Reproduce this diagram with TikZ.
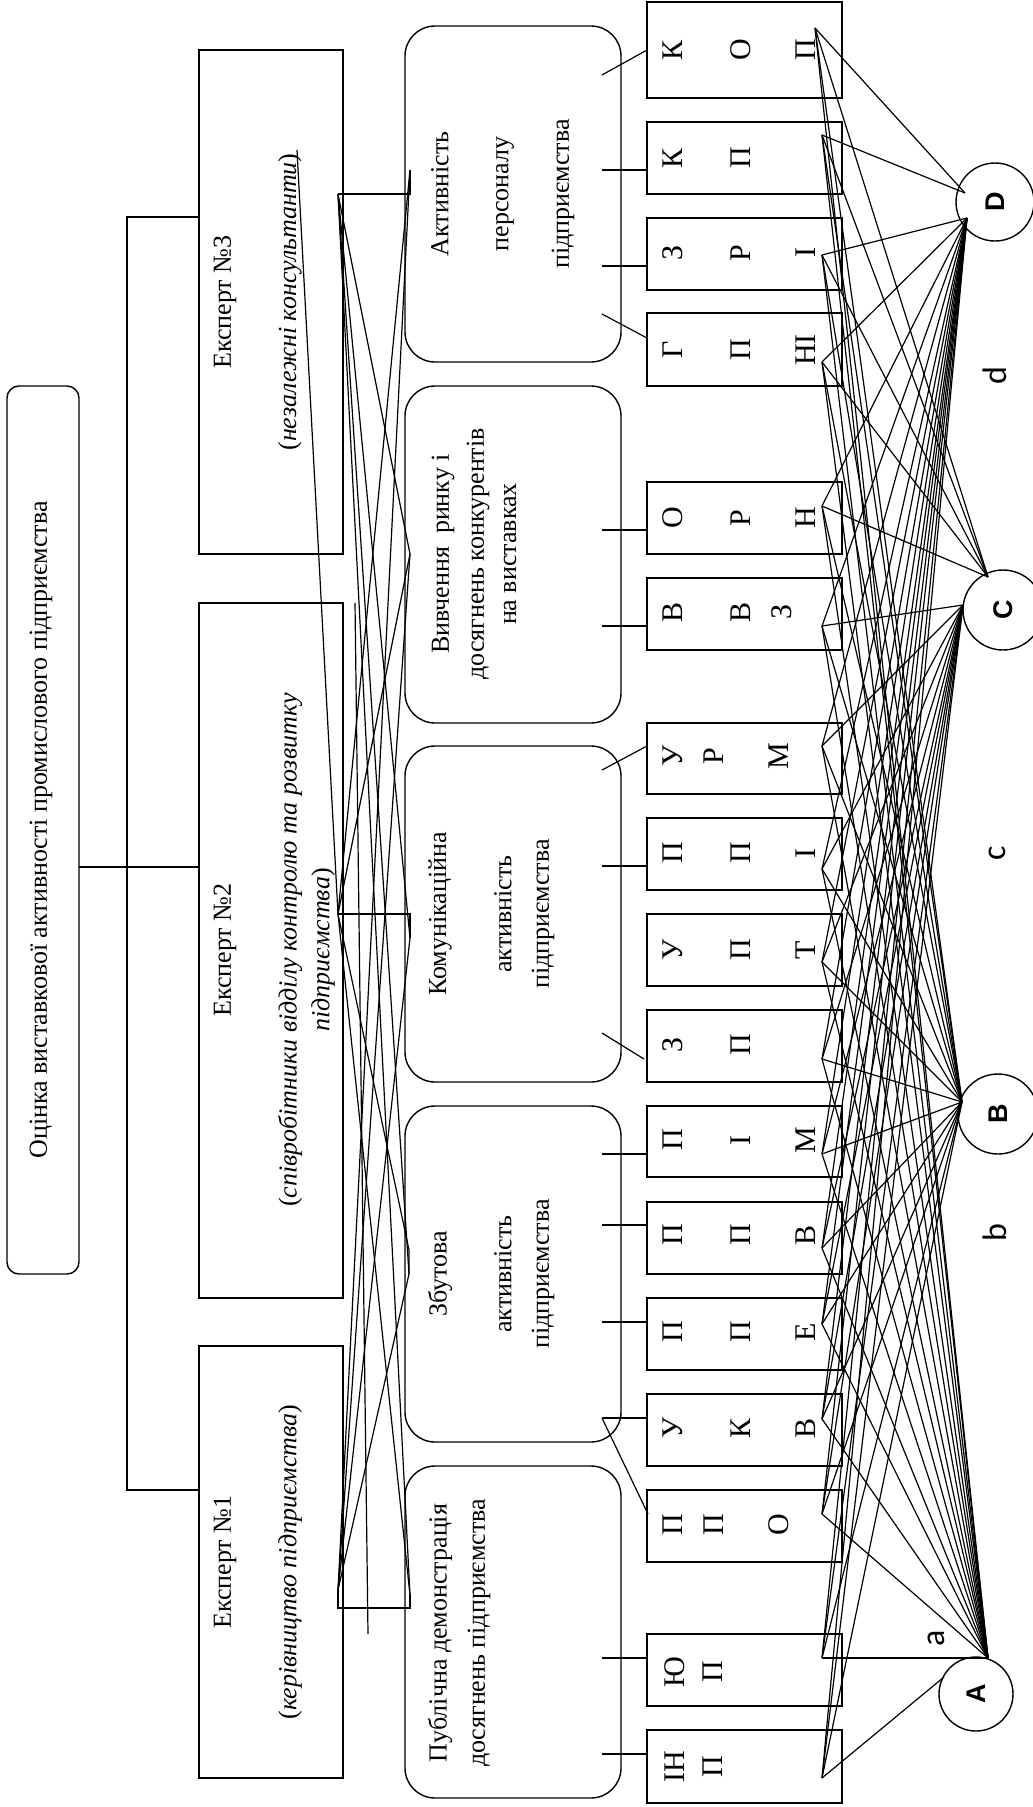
\documentclass[tikz,border=0pt]{standalone}
\usepackage{fontspec}
\setmainfont{Liberation Serif}
\newfontfamily\lsans{Liberation Sans}
\newfontfamily\carl{Carlito}
\begin{document}
\begin{tikzpicture}[x=1pt,y=-1pt,line width=1.4pt,
  every node/.style={font=\fontsize{26}{31}\selectfont},
  sbox/.style={draw,rectangle,inner sep=0pt,minimum width=195pt},
  ebox/.style={draw,rectangle,inner sep=0pt,minimum width=144pt},
  cbox/.style={draw,rectangle,rounded corners=30pt,inner sep=0pt,minimum width=216pt},
  txt/.style={rotate=90,inner sep=0pt},
  lt/.style={rotate=90,inner sep=0pt,font=\fontsize{30}{34}\selectfont},
  circ/.style={draw,circle,minimum size=78pt,inner sep=0pt,rotate=90,font=\lsans\bfseries\fontsize{27}{29}\selectfont},
  lab/.style={rotate=90,inner sep=0pt,font=\carl\fontsize{34}{36}\selectfont},
  conn/.style={line width=1.2pt}]
\useasboundingbox (0,0) rectangle (1033,1807);

% title and tree
\node[draw,rectangle,rounded corners=12pt,minimum width=72pt,minimum height=888pt,inner sep=0pt] (title) at (43,830) {};
\node[txt] (titlet) at (41,830) {Оцінка виставкової активності промислового підприємства};

% experts
\node[ebox,minimum height=504pt] (ex3) at (271,302) {};
\node[ebox,minimum height=695pt] (ex2) at (271,950.5) {};
\node[ebox,minimum height=432pt] (ex1) at (271,1562) {};
\node[txt] (ex3a) at (225,302) {Експерт №3};
\node[txt] (ex3b) at (290,302) {(\textit{незалежні консультанти})};
\node[txt] (ex2a) at (225,950) {Експерт №2};
\node[txt] (ex2b) at (290,950) {(\textit{співробітники відділу контролю та розвитку}};
\node[txt] (ex2c) at (323,950) {\textit{підприємства})};
\node[txt] (ex1a) at (225,1562) {Експерт №1};
\node[txt] (ex1b) at (290,1562) {(\textit{керівництво підприємства})};

\coordinate (tr0) at (79,867);
\coordinate (tr1) at (127,217);
\coordinate (tr2) at (127,1490);
\coordinate (tr3) at (199,217);
\coordinate (tr4) at (199,1490);
\coordinate (tr5) at (199,867);
\draw (tr0) -- (tr5);
\draw (tr3) -- (tr1) -- (tr2) -- (tr4);

% categories
\node[cbox,minimum height=336pt] (k1) at (513,194) {};
\node[cbox,minimum height=337pt] (k2) at (513,554.5) {};
\node[cbox,minimum height=336pt] (k3) at (513,914) {};
\node[cbox,minimum height=336pt] (k4) at (513,1274) {};
\node[cbox,minimum height=332pt] (k5) at (513,1632) {};
\node[txt] (k1t1) at (440,194) {Активність};
\node[txt] (k1t2) at (505,194) {персоналу};
\node[txt] (k1t3) at (563,194) {підприємства};
\node[txt] (k2t1) at (443,554) {Вивчення~ ринку і};
\node[txt] (k2t2) at (478,554) {досягнень конкурентів};
\node[txt] (k2t3) at (510,554) {на виставках};
\node[txt] (k3t1) at (440,914) {Комунікаційна};
\node[txt] (k3t2) at (503,914) {активність};
\node[txt] (k3t3) at (543,914) {підприємства};
\node[txt] (k4t1) at (440,1274) {Збутова};
\node[txt] (k4t2) at (503,1274) {активність};
\node[txt] (k4t3) at (543,1274) {підприємства};
\node[txt] (k5t1) at (440,1633) {Публічна демонстрація};
\node[txt] (k5t2) at (479,1633) {досягнень підприємства};

% expert - category connectors
\coordinate (e3p) at (338,194);
\coordinate (e2p) at (338,914);
\coordinate (e1p) at (338,1590);
\coordinate (e1q) at (338,1608);
\coordinate (k1a) at (410,194);
\coordinate (k1b) at (410,170);
\coordinate (k2p) at (410,554);
\coordinate (k3a) at (410,914);
\coordinate (k3b) at (410,938);
\coordinate (k4a) at (409,1250);
\coordinate (k4b) at (409,1274);
\coordinate (k5a) at (410,1608);
\coordinate (k5b) at (410,1595);
\coordinate (x1) at (297,150);
\coordinate (x2) at (355,603);
\coordinate (x3) at (368,1634);
\draw[conn] (e3p) -- (k1a) -- (k1b);
\draw[conn] (e3p) -- (k2p);
\draw[conn] (e3p) -- (k3b);
\draw[conn] (e3p) -- (k4b);
\draw[conn] (e3p) -- (k5b);
\draw[conn] (e2p) -- (k1b);
\draw[conn] (e2p) -- (k2p);
\draw[conn] (e2p) -- (k3a) -- (k3b);
\draw[conn] (e2p) -- (k4a) -- (k4b);
\draw[conn] (e2p) -- (k5b);
\draw[conn] (e1p) -- (k1b);
\draw[conn] (e1p) -- (k2p);
\draw[conn] (e1p) -- (k3b);
\draw[conn] (e1p) -- (k4b);
\draw[conn] (e1p) -- (e1q) -- (k5a) -- (k5b);
\draw[conn] (x1) -- (e2p);
\draw[conn] (x2) -- (x3);

% small boxes
\newcommand\SB[3]{\node[sbox,minimum height={#3-#2}] (#1) at (744.5,{(#2+#3)/2}) {};}
\SB{kop}{2}{98}
\SB{kp}{122}{194}
\SB{zri}{218}{290}
\SB{gpni}{313}{386}
\SB{orn}{482}{554}
\SB{vvz}{578}{650}
\SB{urm}{723}{794}
\SB{ppi}{818}{890}
\SB{upt}{914}{986}
\SB{zp}{1010}{1082}
\SB{pim}{1106}{1177}
\SB{ppv}{1202}{1274}
\SB{ppe}{1298}{1370}
\SB{ukv}{1394}{1466}
\SB{ppo}{1490}{1562}
\SB{yup}{1634}{1706}
\SB{inp}{1730}{1803}

% letters
\node[lt] (kop1) at (673,50) {К}; \node[lt] (kop2) at (741,50) {О}; \node[lt] (kop3) at (806,50) {П};
\node[lt] (kp1) at (673,158) {К}; \node[lt] (kp2) at (741,158) {П};
\node[lt] (zri1) at (673,253) {З}; \node[lt] (zri2) at (741,253) {Р}; \node[lt] (zri3) at (806,253) {І};
\node[lt] (gpni1) at (673,350) {Г}; \node[lt] (gpni2) at (741,350) {П}; \node[lt] (gpni3) at (806,350) {НІ};
\node[lt] (orn1) at (673,518) {О}; \node[lt] (orn2) at (741,518) {Р}; \node[lt] (orn3) at (806,518) {Н};
\node[lt] (vvz1) at (673,612) {В}; \node[lt] (vvz2) at (741,612) {В}; \node[lt] (vvz3) at (782,612) {З};
\node[lt] (urm1) at (673,756) {У}; \node[lt] (urm2) at (714,756) {Р}; \node[lt] (urm3) at (779,756) {М};
\node[lt] (ppi1) at (673,853) {П}; \node[lt] (ppi2) at (741,853) {П}; \node[lt] (ppi3) at (806,853) {І};
\node[lt] (upt1) at (673,950) {У}; \node[lt] (upt2) at (741,950) {П}; \node[lt] (upt3) at (806,950) {Т};
\node[lt] (zp1) at (673,1045) {З}; \node[lt] (zp2) at (741,1045) {П};
\node[lt] (pim1) at (673,1140) {П}; \node[lt] (pim2) at (741,1140) {І}; \node[lt] (pim3) at (806,1140) {М};
\node[lt] (ppv1) at (673,1235) {П}; \node[lt] (ppv2) at (741,1235) {П}; \node[lt] (ppv3) at (806,1235) {В};
\node[lt] (ppe1) at (673,1332) {П}; \node[lt] (ppe2) at (741,1332) {П}; \node[lt] (ppe3) at (806,1332) {Е};
\node[lt] (ukv1) at (673,1428) {У}; \node[lt] (ukv2) at (741,1428) {К}; \node[lt] (ukv3) at (806,1428) {В};
\node[lt] (ppo1) at (673,1525) {П}; \node[lt] (ppo2) at (714,1525) {П}; \node[lt] (ppo3) at (779,1525) {О};
\node[lt] (yup1) at (675,1672) {Ю}; \node[lt] (yup2) at (713,1672) {П};
\node[lt] (inp1) at (675,1767) {ІН}; \node[lt] (inp2) at (713,1767) {П};

% ticks category -> small boxes
\coordinate (t1a) at (602,75);   \coordinate (t1b) at (647,50);
\coordinate (t2a) at (602,170);  \coordinate (t2b) at (647,170);
\coordinate (t3a) at (602,266);  \coordinate (t3b) at (647,266);
\coordinate (t4a) at (602,314);  \coordinate (t4b) at (647,338);
\coordinate (t5a) at (602,530);  \coordinate (t5b) at (647,530);
\coordinate (t6a) at (602,626);  \coordinate (t6b) at (647,626);
\coordinate (t7a) at (602,770);  \coordinate (t7b) at (647,746);
\coordinate (t8a) at (602,866);  \coordinate (t8b) at (647,866);
\coordinate (t9a) at (602,1033); \coordinate (t9b) at (644,1059);
\coordinate (t10a) at (602,1154); \coordinate (t10b) at (647,1154);
\coordinate (t11a) at (602,1225); \coordinate (t11b) at (647,1225);
\coordinate (t12a) at (602,1322); \coordinate (t12b) at (647,1322);
\coordinate (t13a) at (602,1418); \coordinate (t13b) at (647,1418);
\coordinate (t14b) at (648,1514);
\coordinate (t15a) at (602,1658); \coordinate (t15b) at (647,1658);
\coordinate (t16a) at (602,1754); \coordinate (t16b) at (647,1754);
\foreach \i in {1,...,13,15,16} {\draw[conn] (t\i a) -- (t\i b);}
\draw[conn] (t13a) -- (t14b);

% circles
\node[circ] (D) at (995,202) {D};
\node[circ,minimum size=80pt] (C) at (1003,610) {C};
\node[circ,minimum size=80pt] (B) at (998,1114) {B};
\node[circ,minimum size=74pt] (A) at (976,1694) {A};
\node[lab] (ld) at (995,376) {d};
\node[lab] (lc) at (997,853) {c};
\node[lab] (lb) at (995,1233) {b};
\node[lab] (la) at (936,1638) {a};

% convergence points on the circles
\coordinate (Du) at (965,193);
\coordinate (Dl) at (967,218);
\coordinate (Cu) at (988,577);
\coordinate (Cl) at (963,605);
\coordinate (Bp) at (962,1102);
\coordinate (Ap) at (988,1658);
\coordinate (At) at (944,1677);

% box anchors
\coordinate (kop-p) at (815,28);
\coordinate (kp-p) at (822,135);
\coordinate (zri-p) at (822,255);
\coordinate (gpni-p) at (822,362);
\coordinate (orn-p) at (822,506);
\coordinate (vvz-p) at (822,626);
\coordinate (urm-p) at (822,746);
\coordinate (ppi-p) at (822,869);
\coordinate (upt-p) at (822,962);
\coordinate (zp-p) at (822,1059);
\coordinate (pim-p) at (822,1154);
\coordinate (ppv-p) at (822,1248);
\coordinate (ppe-p) at (822,1324);
\coordinate (ukv-p) at (822,1419);
\coordinate (ppo-p) at (822,1514);
\coordinate (yup-p) at (822,1658);
\coordinate (inp-p) at (822,1778);

% to D
\foreach \b in {kop,kp}{\draw[conn] (\b-p) -- (Du);}
\foreach \b in {zri,gpni,orn,vvz,urm,ppi,upt,zp,pim,ppv,ppe,ukv,ppo,yup,inp}{\draw[conn] (\b-p) -- (Dl);}
% to C
\foreach \b in {kop,kp,zri,gpni,orn}{\draw[conn] (\b-p) -- (Cu);}
\foreach \b in {vvz,urm,ppi,upt,zp,pim,ppv,ppe,ukv,ppo,yup,inp}{\draw[conn] (\b-p) -- (Cl);}
% to B
\foreach \b in {kop,kp,zri,gpni,orn,vvz,urm,ppi,upt,zp,pim,ppv,ppe,ukv,ppo,yup,inp}{\draw[conn] (\b-p) -- (Bp);}
% to A
\foreach \b in {kop,kp,zri,gpni,orn,vvz,urm,ppi,upt,zp,pim,ppv,ppe,ukv,ppo,yup}{\draw[conn] (\b-p) -- (Ap);}
\draw[conn] (inp-p) -- (At);
\end{tikzpicture}
\end{document}
